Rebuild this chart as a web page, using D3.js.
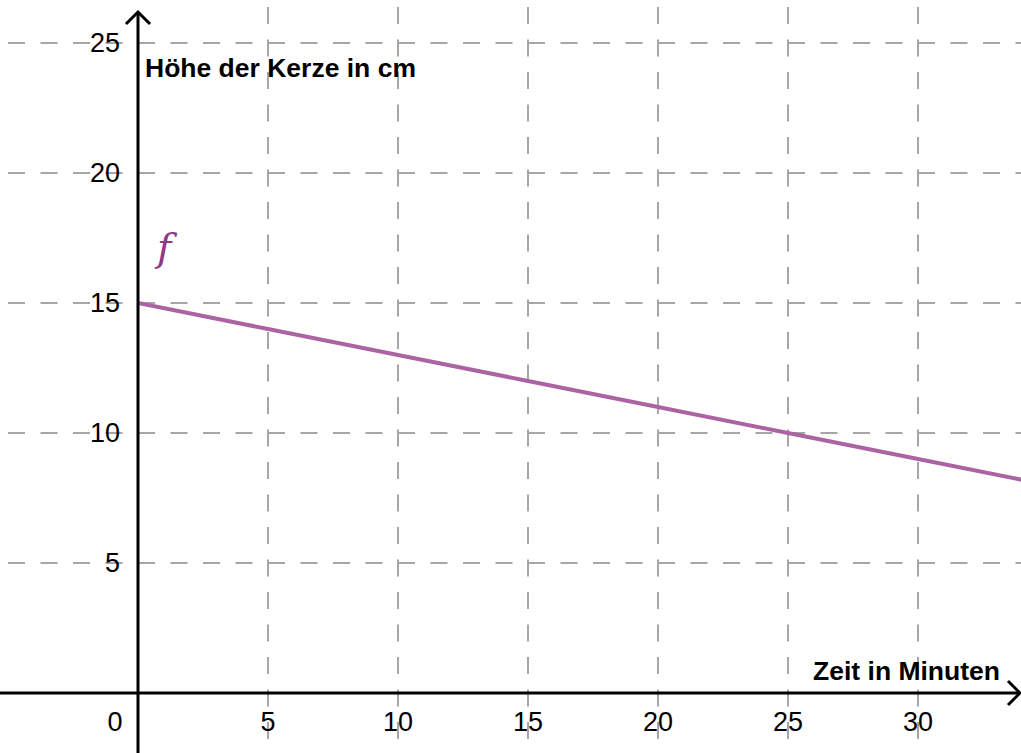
<!DOCTYPE html>
<html>
<head>
<meta charset="utf-8">
<script src="https://cdn.jsdelivr.net/npm/d3@7"></script>
<style>
  html, body { margin: 0; padding: 0; background: #fff; }
  svg { display: block; }
</style>
</head>
<body>
<svg id="chart" width="1021" height="753"></svg>
<script>
// ---- data ----
const minutes = [0, 5, 10, 15, 20, 25, 30, 35];
const heightCm = [15, 14, 13, 12, 11, 10, 9, 8];
const xTicks = [0, 5, 10, 15, 20, 25, 30];
const yTicks = [5, 10, 15, 20, 25];
const xGrid = [5, 10, 15, 20, 25, 30];
const yGrid = [5, 10, 15, 20, 25];
const xLabel = "Zeit in Minuten";
const yLabel = "Höhe der Kerze in cm";
const fnName = "f";

const W = 1021, H = 753;
const svg = d3.select("#chart");

const x = d3.scaleLinear().domain([-5.3077, 33.9615]).range([0, W]);
const y = d3.scaleLinear().domain([-2.3077, 26.6538]).range([H, 0]);

const gridColor = "#a6a6a6";

// grid
svg.append("g").selectAll("line").data(xGrid).join("line")
  .attr("x1", d => x(d)).attr("x2", d => x(d))
  .attr("y1", 0).attr("y2", H)
  .attr("stroke", gridColor).attr("stroke-width", 2)
  .attr("stroke-dasharray", "17,15.5").attr("stroke-dashoffset", 25.5);

svg.append("g").selectAll("line").data(yGrid).join("line")
  .attr("x1", 0).attr("x2", W)
  .attr("y1", d => y(d)).attr("y2", d => y(d))
  .attr("stroke", gridColor).attr("stroke-width", 2)
  .attr("stroke-dasharray", "17,15.5").attr("stroke-dashoffset", 24.5);

// function line
svg.append("defs").append("clipPath").attr("id", "clip")
  .append("rect").attr("x", x(0)).attr("y", 0).attr("width", W - x(0)).attr("height", H);

const line = d3.line().x((d, i) => x(minutes[i])).y(d => y(d));
svg.append("path")
  .datum(heightCm)
  .attr("d", line)
  .attr("fill", "none")
  .attr("stroke", "#aa64a1")
  .attr("stroke-width", 4)
  .attr("clip-path", "url(#clip)");

// axes
const x0 = x(0), y0 = y(0);
svg.append("line").attr("x1", 0).attr("x2", W - 2).attr("y1", y0).attr("y2", y0)
  .attr("stroke", "#000").attr("stroke-width", 3);
svg.append("line").attr("x1", x0).attr("x2", x0).attr("y1", H).attr("y2", 12)
  .attr("stroke", "#000").attr("stroke-width", 3);
// arrows
svg.append("path")
  .attr("d", `M${x0 - 12},${24} L${x0},${12} L${x0 + 12},${24}`)
  .attr("fill", "none").attr("stroke", "#000").attr("stroke-width", 3);
svg.append("path")
  .attr("d", `M${W - 13},${y0 - 12} L${W - 1},${y0} L${W - 13},${y0 + 12}`)
  .attr("fill", "none").attr("stroke", "#000").attr("stroke-width", 3);

// tick labels
const font = "'Liberation Sans', Arial, sans-serif";
svg.append("g").selectAll("text").data(xTicks).join("text")
  .attr("x", d => d === 0 ? x0 - 23 : x(d))
  .attr("y", y0 + 38)
  .attr("text-anchor", "middle")
  .attr("font-family", font).attr("font-size", 27)
  .text(d => d);

svg.append("g").selectAll("text").data(yTicks).join("text")
  .attr("x", x0 - 18)
  .attr("y", d => y(d) + 9.5)
  .attr("text-anchor", "end")
  .attr("font-family", font).attr("font-size", 27)
  .text(d => d);

// axis labels
svg.append("text").attr("x", 145).attr("y", 77)
  .attr("font-family", font).attr("font-size", 26.5).attr("font-weight", "bold")
  .text(yLabel);
svg.append("text").attr("x", 1000).attr("y", 680)
  .attr("text-anchor", "end")
  .attr("font-family", font).attr("font-size", 26.5).attr("font-weight", "bold")
  .text(xLabel);

// function name
svg.append("text").attr("x", 157).attr("y", 261)
  .attr("font-family", "'DejaVu Serif', 'Liberation Serif', serif")
  .attr("font-style", "italic").attr("font-size", 39)
  .attr("fill", "#8e3a85")
  .text(fnName);
</script>
</body>
</html>
